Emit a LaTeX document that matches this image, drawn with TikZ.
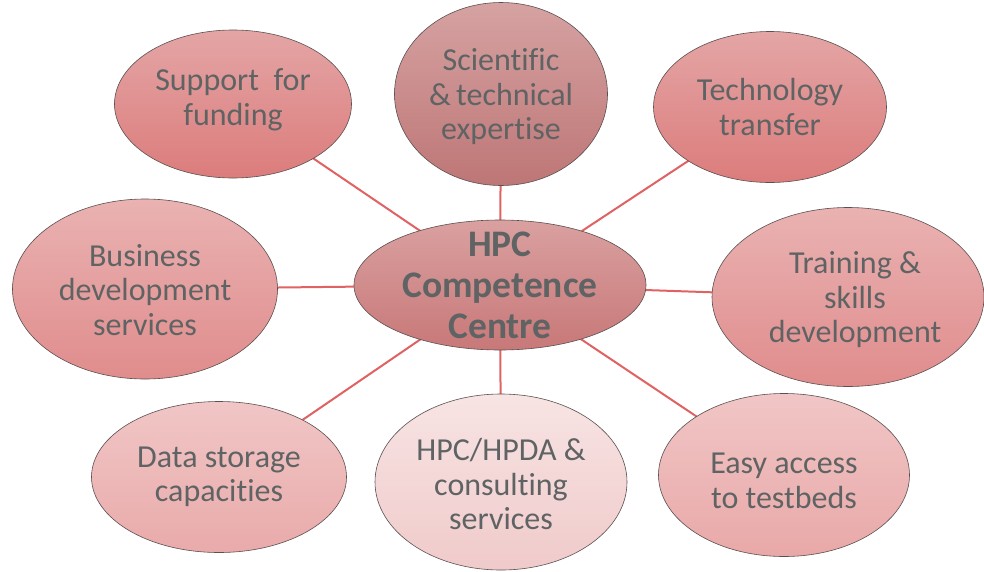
\documentclass[tikz,border=0pt]{standalone}
\usepackage{fontspec}
\setmainfont[Ligatures=NoCommon]{Carlito}
\usetikzlibrary{shapes.geometric,backgrounds}
\definecolor{txt}{HTML}{5F6364}
\definecolor{link}{HTML}{E06262}
\definecolor{bord}{HTML}{5A5050}
\tikzset{
  bub/.style={ellipse, draw=bord, line width=0.6pt, inner sep=0pt},
  lbl/.style={inner sep=0pt, align=center, text=txt, font=\fontsize{32}{34.5}\selectfont},
  conn/.style={draw=link, line width=2pt},
}
\begin{document}
\begin{tikzpicture}[x=1pt,y=-1pt]
\useasboundingbox (0,0) rectangle (984,571);
% bubbles
\node[bub, minimum width=237pt, minimum height=148pt, top color={rgb,255:red,228;green,165;blue,165}, bottom color={rgb,255:red,220;green,124;blue,124}] (sup) at (233,104) {};
\node[bub, minimum width=213pt, minimum height=183pt, top color={rgb,255:red,214;green,162;blue,162}, bottom color={rgb,255:red,190;green,118;blue,118}] (sci) at (501,94) {};
\node[bub, minimum width=233pt, minimum height=151pt, top color={rgb,255:red,228;green,165;blue,165}, bottom color={rgb,255:red,220;green,124;blue,124}] (tec) at (770,107) {};
\node[bub, minimum width=265pt, minimum height=180pt, top color={rgb,255:red,234;green,178;blue,178}, bottom color={rgb,255:red,224;green,140;blue,140}] (bus) at (145,289) {};
\node[bub, minimum width=292pt, minimum height=130pt, top color={rgb,255:red,218;green,160;blue,160}, bottom color={rgb,255:red,200;green,120;blue,120}] (hpc) at (500,285) {};
\node[bub, minimum width=272pt, minimum height=179pt, top color={rgb,255:red,234;green,178;blue,178}, bottom color={rgb,255:red,224;green,140;blue,140}] (tra) at (848,297) {};
\node[bub, minimum width=255pt, minimum height=151pt, top color={rgb,255:red,241;green,198;blue,198}, bottom color={rgb,255:red,233;green,170;blue,170}] (dat) at (219,477) {};
\node[bub, minimum width=252pt, minimum height=176pt, top color={rgb,255:red,248;green,228;blue,228}, bottom color={rgb,255:red,240;green,202;blue,202}] (hpd) at (501,482) {};
\node[bub, minimum width=251pt, minimum height=163pt, top color={rgb,255:red,241;green,198;blue,198}, bottom color={rgb,255:red,233;green,168;blue,168}] (eas) at (784,475) {};
% texts
\node[lbl] (supT) at (233,100) {Support\ \ for\\funding};
\node[lbl] (sciT) at (501,97) {Scientific\\\&\,technical\\expertise};
\node[lbl] (tecT) at (770,107) {Technology\\transfer};
\node[lbl] (busT) at (145,290) {Business\\development\\services};
\node[lbl, font=\bfseries\fontsize{37.5}{41}\selectfont] (hpcT) at (500,285) {HPC\\Competence\\Centre};
\node[lbl] (traT) at (855,300) {Training \&\\skills\\development};
\node[lbl] (datT) at (219,477) {Data storage\\capacities};
\node[lbl] (hpdT) at (501,484) {HPC/HPDA \&\\consulting\\services};
\node[lbl] (easT) at (784,481) {Easy access\\to testbeds};
% connectors
\begin{pgfonlayer}{background}
\fill[white] (0,0) rectangle (984,571);
\foreach \n in {sup,sci,tec,bus,tra,dat,hpd,eas}
  \draw[conn] (hpc.center) -- (\n.center);
\end{pgfonlayer}
\end{tikzpicture}
\end{document}
